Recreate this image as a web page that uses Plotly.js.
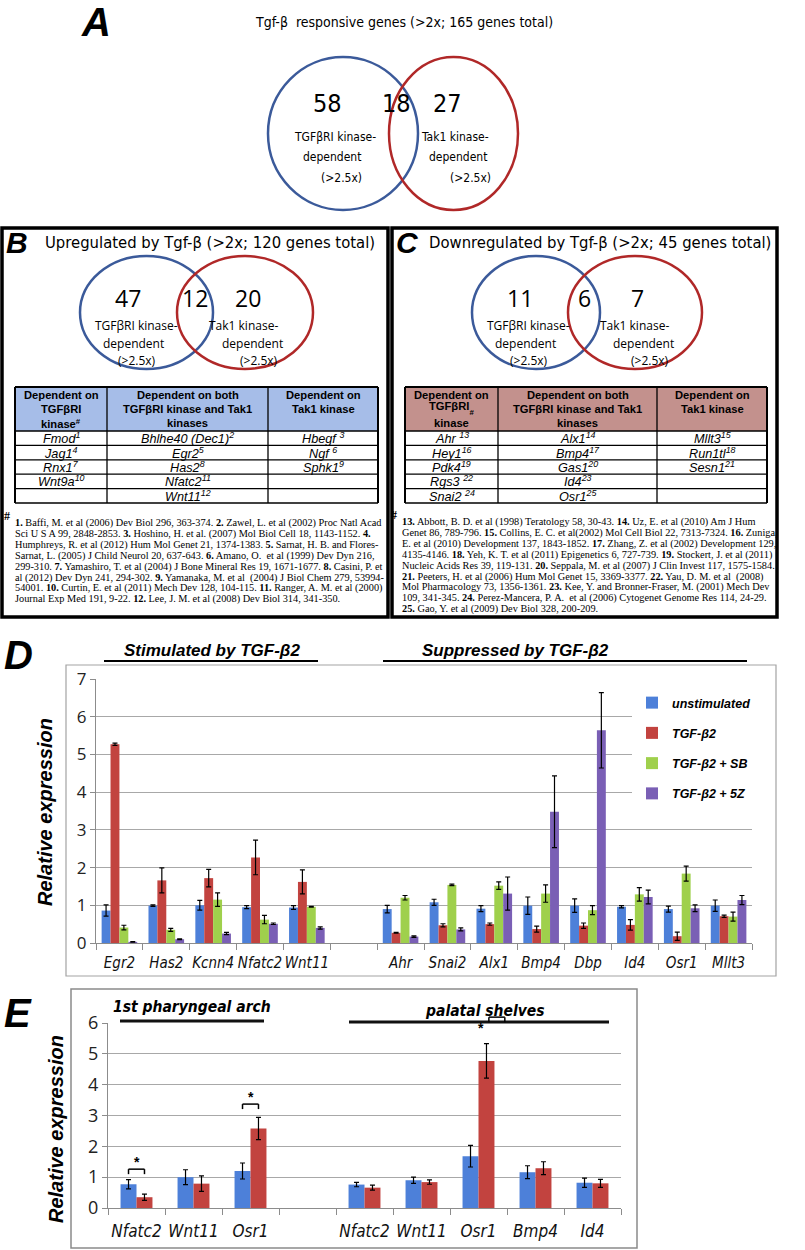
<!DOCTYPE html>
<html><head><meta charset="utf-8">
<script src="https://cdn.plot.ly/plotly-3.0.1.min.js"></script>
<style>html,body{margin:0;padding:0;background:#fff}#chart{width:805px;height:1250px}</style>
</head><body><div id="chart"></div>
<script>
// ================= DATA =================
const vennA = [58, 18, 27];
const vennB = [47, 12, 20];
const vennC = [11, 6, 7];
const vennLeftLabel = ['TGFβRI kinase-', 'dependent', '(>2.5x)'];
const vennRightLabel = ['Tak1 kinase-', 'dependent', '(>2.5x)'];
const titleA = 'Tgf-β  responsive genes (>2x; 165 genes total)';
const titleB = 'Upregulated by Tgf-β (>2x; 120 genes total)';
const titleC = 'Downregulated by Tgf-β (>2x; 45 genes total)';

const tableBHeader = [['Dependent on', 'TGFβRI', 'kinase<sup>#</sup>'], ['Dependent on both', 'TGFβRI kinase and Tak1', 'kinases'], ['Dependent on', 'Tak1 kinase']];
const tableBCol1 = ['Fmod<sup>1</sup>', 'Jag1<sup>4</sup>', 'Rnx1<sup>7</sup>', 'Wnt9a<sup>10</sup>', ''];
const tableBCol2 = ['Bhlhe40 (Dec1)<sup>2</sup>', 'Egr2<sup>5</sup>', 'Has2<sup>8</sup>', 'Nfatc2<sup>11</sup>', 'Wnt11<sup>12</sup>'];
const tableBCol3 = ['Hbegf <sup>3</sup>', 'Ngf <sup>6</sup>', 'Sphk1<sup>9</sup>', '', ''];
const tableCHeader = [['Dependent on', 'TGFβRI<sub>#</sub>', 'kinase'], ['Dependent on both', 'TGFβRI kinase and Tak1', 'kinases'], ['Dependent on', 'Tak1 kinase']];
const tableCCol1 = ['Ahr <sup>13</sup>', 'Hey1<sup>16</sup>', 'Pdk4<sup>19</sup>', 'Rgs3 <sup>22</sup>', 'Snai2 <sup>24</sup>'];
const tableCCol2 = ['Alx1<sup>14</sup>', 'Bmp4<sup>17</sup>', 'Gas1<sup>20</sup>', 'Id4<sup>23</sup>', 'Osr1<sup>25</sup>'];
const tableCCol3 = ['Mllt3<sup>15</sup>', 'Run1tl<sup>18</sup>', 'Sesn1<sup>21</sup>', '', ''];

const refsB = [
 '<b>1.</b> Baffi, M. et al (2006) Dev Biol 296, 363-374. <b>2.</b> Zawel, L. et al (2002) Proc Natl Acad',
 'Sci U S A 99, 2848-2853. <b>3.</b> Hoshino, H. et al. (2007) Mol Biol Cell 18, 1143-1152. <b>4.</b>',
 'Humphreys, R. et al (2012) Hum Mol Genet 21, 1374-1383. <b>5.</b> Sarnat, H. B. and Flores-',
 'Sarnat, L. (2005) J Child Neurol 20, 637-643. <b>6.</b> Amano, O.  et al (1999) Dev Dyn 216,',
 '299-310. <b>7.</b> Yamashiro, T. et al (2004) J Bone Mineral Res 19, 1671-1677. <b>8.</b> Casini, P. et',
 'al (2012) Dev Dyn 241, 294-302. <b>9.</b> Yamanaka, M. et al  (2004) J Biol Chem 279, 53994-',
 '54001. <b>10.</b> Curtin, E. et al (2011) Mech Dev 128, 104-115. <b>11.</b> Ranger, A. M. et al (2000)',
 'Journal Exp Med 191, 9-22. <b>12.</b> Lee, J. M. et al (2008) Dev Biol 314, 341-350.'
];
const refsC = [
 '<b>13.</b> Abbott, B. D. et al (1998) Teratology 58, 30-43. <b>14.</b> Uz, E. et al (2010) Am J Hum',
 'Genet 86, 789-796. <b>15.</b> Collins, E. C. et al(2002) Mol Cell Biol 22, 7313-7324. <b>16.</b> Zuniga,',
 'E. et al (2010) Development 137, 1843-1852. <b>17.</b> Zhang, Z. et al (2002) Development 129,',
 '4135-4146. <b>18.</b> Yeh, K. T. et al (2011) Epigenetics 6, 727-739. <b>19.</b> Stockert, J. et al (2011)',
 'Nucleic Acids Res 39, 119-131. <b>20.</b> Seppala, M. et al (2007) J Clin Invest 117, 1575-1584.',
 '<b>21.</b> Peeters, H. et al (2006) Hum Mol Genet 15, 3369-3377. <b>22.</b> Yau, D. M. et al  (2008)',
 'Mol Pharmacology 73, 1356-1361. <b>23.</b> Kee, Y. and Bronner-Fraser, M. (2001) Mech Dev',
 '109, 341-345. <b>24.</b> Perez-Mancera, P. A.  et al (2006) Cytogenet Genome Res 114, 24-29.',
 '<b>25.</b> Gao, Y. et al (2009) Dev Biol 328, 200-209.'
];

// Panel D: qPCR, four conditions
const dCategories = ['Egr2','Has2','Kcnn4','Nfatc2','Wnt11',null,'Ahr','Snai2','Alx1','Bmp4','Dbp','Id4','Osr1','Mllt3'];
const dSeriesNames = ['unstimulated','TGF-β2','TGF-β2 + SB','TGF-β2 + 5Z'];
const dUnstim    = [0.86,0.99,1.00,0.95,0.94,null,0.90,1.08,0.91,0.99,0.99,0.96,0.90,0.99];
const dUnstimErr = [0.15,0.02,0.13,0.04,0.05,null,0.10,0.08,0.08,0.23,0.18,0.03,0.08,0.15];
const dTgf       = [5.27,1.66,1.72,2.27,1.62,null,0.27,0.47,0.50,0.37,0.46,0.48,0.18,0.71];
const dTgfErr    = [0.03,0.33,0.23,0.46,0.32,null,0.01,0.04,0.03,0.08,0.07,0.14,0.11,0.03];
const dSB        = [0.41,0.35,1.15,0.62,0.96,null,1.20,1.54,1.52,1.31,0.87,1.29,1.84,0.70];
const dSBErr     = [0.06,0.04,0.18,0.11,0.01,null,0.06,0.02,0.10,0.23,0.12,0.18,0.20,0.12];
const d5Z        = [0.03,0.10,0.25,0.51,0.40,null,0.17,0.36,1.31,3.48,5.64,1.22,0.92,1.14];
const d5ZErr     = [0.01,0.01,0.03,0.02,0.03,null,0.02,0.04,0.44,0.95,1.00,0.18,0.09,0.12];
const dGroupTitles = ['Stimulated by TGF-β2', 'Suppressed by TGF-β2'];

// Panel E: tissue, two conditions
const eCategories = ['Nfatc2','Wnt11','Osr1',null,'Nfatc2','Wnt11','Osr1','Bmp4','Id4'];
const eControl    = [0.77,1.00,1.20,null,0.76,0.90,1.68,1.16,0.82];
const eControlErr = [0.15,0.24,0.26,null,0.07,0.10,0.35,0.21,0.15];
const eTreated    = [0.35,0.79,2.58,null,0.66,0.84,4.77,1.29,0.80];
const eTreatedErr = [0.10,0.25,0.36,null,0.08,0.07,0.56,0.21,0.13];
const eGroupTitles = ['1st pharyngeal arch', 'palatal shelves'];
const eSignificant = [0, 2, 6];
const eSigLevel    = [1.26, 3.37, 6.19];

// ================= LAYOUT HELPERS =================
const W = 805, H = 1250;
const X = p => p / W;
const Y = p => 1 - p / H;
const narrow = 'Liberation Sans Narrow, DejaVu Sans Condensed, Arial Narrow, sans-serif';
const arial = 'Liberation Sans, Arial, sans-serif';
const serif = 'Liberation Serif, Times New Roman, serif';
const calib = 'Open Sans, Noto Sans, sans-serif';
const blueC = '#4d80d9', redC = '#c2433f', greenC = '#9fd04c', purpC = '#7a5fb5';

function sized(t, size) {
  const s = (size * 0.7).toFixed(1);
  return t.replace(/<sup>(.*?)<\/sup>/g, '<span style="font-size:' + s + 'px;baseline-shift:super">$1</span>')
          .replace(/<sub>(.*?)<\/sub>/g, '<span style="font-size:' + s + 'px;baseline-shift:sub">$1</span>')
          .replace(/<b>(.*?)<\/b>/g, '<span style="font-weight:bold;font-size:' + size + 'px">$1</span>');
}

const shapes = [], ann = [];
function txt(x, y, text, size, fam, opts) {
  ann.push(Object.assign({xref:'paper', yref:'paper', x:X(x), y:Y(y), text:text, showarrow:false,
    xanchor:'center', yanchor:'middle', font:{size:size, family:fam, color:'#000'}}, opts || {}));
}
function rect(x0, y0, x1, y1, ln, fill, opts) {
  shapes.push(Object.assign({type:'rect', xref:'paper', yref:'paper', x0:X(x0), x1:X(x1), y0:Y(y0), y1:Y(y1),
    line:ln, fillcolor:fill || 'rgba(0,0,0,0)', layer:'above'}, opts || {}));
}
function line(x0, y0, x1, y1, color, width) {
  shapes.push({type:'line', xref:'paper', yref:'paper', x0:X(x0), x1:X(x1), y0:Y(y0), y1:Y(y1),
    line:{color:color, width:width}, layer:'above'});
}
function ellipse(x0, y0, x1, y1, color, width) {
  shapes.push({type:'circle', xref:'paper', yref:'paper', x0:X(x0), x1:X(x1), y0:Y(y0), y1:Y(y1),
    line:{color:color, width:width}, layer:'above'});
}

// ---- Panel A ----
txt(96, 22, '<b><i>A</i></b>', 40, arial);
txt(404, 22, titleA, 14, narrow);
ellipse(268, 57, 418, 210, '#3b5a9a', 2.5);
ellipse(389, 57, 518, 210, '#b02828', 2.5);
txt(327, 104, String(vennA[0]), 25, narrow);
txt(396, 104, String(vennA[1]), 25, narrow);
txt(447, 104, String(vennA[2]), 25, narrow);
[137, 157, 178].forEach((yy, i) => {
  txt([335, 332, 341][i], yy, vennLeftLabel[i], 12, narrow);
  txt([455, 458, 470][i], yy, vennRightLabel[i], 12, narrow);
});

// ---- Panels B & C ----
function panel(ox, boxR, letter, title, venn, hdr, c1, c2, c3, cols, tblL, tblR, hdrFill, refs, refY, refX, circ) {
  rect(ox + 2, 228, boxR, 617, {color:'#000', width:3.5});
  txt(ox + 17, 242, '<b><i>' + letter + '</i></b>', 30, arial);
  txt((ox + 40 + boxR - 8) / 2, 242, title, 16.5, narrow);
  ellipse(circ[0], 256, circ[1], 369, '#3b5a9a', 2.5);
  ellipse(circ[2], 256, circ[3], 369, '#b02828', 2.5);
  const nx = [circ[0] + 48, (circ[1] + circ[2]) / 2, circ[3] - 65];
  venn.forEach((v, i) => txt(nx[i], 298, String(v), 23, calib));
  const lx = [circ[0] + 56, circ[0] + 53, circ[0] + 57];
  const rx = [circ[2] + 66, circ[2] + 75, circ[2] + 82];
  [326, 343, 360].forEach((yy, i) => {
    txt(lx[i], yy, vennLeftLabel[i], 12, calib);
    txt(rx[i], yy, vennRightLabel[i], 12, calib);
  });
  const hTop = 387, hBot = 431, rowH = 14.4;
  const edges = [tblL, cols[0], cols[1], tblR];
  rect(tblL, hTop, tblR, hBot, {color:'#000', width:0}, hdrFill, {layer:'below'});
  const body = [c1, c2, c3];
  for (let r = 0; r <= 5; r++) line(tblL, hBot + r * rowH, tblR, hBot + r * rowH, '#000', 1.3);
  line(tblL, hTop, tblR, hTop, '#000', 2);
  edges.forEach((ex, k) => line(ex, hTop, ex, hBot + 5 * rowH, '#000', k === 0 || k === 3 ? 2 : 1.3));
  hdr.forEach((lines, k) => {
    const cx = (edges[k] + edges[k + 1]) / 2;
    lines.forEach((t, j) => txt(cx, 395 + j * 14, sized(t, 11.2), 11.2, arial, {font:{size:11.2, family:arial, color:'#000', weight:'bold'}}));
  });
  body.forEach((col, k) => {
    const cx = (edges[k] + edges[k + 1]) / 2;
    col.forEach((t, r) => { if (t) txt(cx, hBot + (r + 0.5) * rowH, sized(t, 12.7), 12.7, arial,
      {font:{size:12.7, family:arial, color:'#000', style:'italic'}}); });
  });
  txt(refX - 6, refY - 7, '#', 12, serif, {font:{size:12, family:serif, color:'#000', weight:'bold'}});
  refs.forEach((t, i) => txt(refX, refY + i * 10.9, sized(t, 10.3), 10.3, serif, {xanchor:'left'}));
}
panel(0, 388, 'B', titleB, vennB, tableBHeader, tableBCol1, tableBCol2, tableBCol3, [107, 268], 15, 378, '#a6bde8', refsB, 523, 13, [80, 213, 177, 313]);
panel(390, 777, 'C', titleC, vennC, tableCHeader, tableCCol1, tableCCol2, tableCCol3, [498, 657], 405, 767, '#c3918d', refsC, 522, 400, [472, 600, 568, 702]);

// ---- Panel D decorations ----
rect(66, 665, 776, 976, {color:'#a3a3a3', width:1.2}, null, {layer:'below'});
txt(18, 655, '<b><i>D</i></b>', 40, arial);
txt(212, 650, '<b><i>' + dGroupTitles[0] + '</i></b>', 17, arial);
line(104, 661, 318, 661, '#000', 2.2);
txt(515, 650, '<b><i>' + dGroupTitles[1] + '</i></b>', 17, arial);
line(383, 661, 747, 661, '#000', 2.2);
txt(45, 812, '<b><i>Relative expression</i></b>', 20, arial, {textangle:-90});

// ---- Panel E decorations ----
rect(71, 989, 637, 1248, {color:'#8a8a8a', width:1.5}, null, {layer:'below'});
txt(18, 1013, '<b><i>E</i></b>', 40, arial);
txt(192, 1007, '<b><i>' + eGroupTitles[0] + '</i></b>', 15.5, narrow);
line(120, 1021, 264, 1021, '#111', 3);
txt(485, 1011, '<b><i>' + eGroupTitles[1] + '</i></b>', 15.5, narrow);
line(349, 1022, 609, 1022, '#111', 3);
txt(56, 1129, '<b><i>Relative expression</i></b>', 20, arial, {textangle:-90});

const eL = 108, eR = 621, eB = 1208, eT = 1023, eN = eCategories.length, eMax = 6;
const eSlot = (eR - eL) / eN;
const eBarW = 0.28;
const ePx = i => eL + (i + 0.5) * eSlot;
const eVy = v => eB - v * (eB - eT) / eMax;
eSignificant.forEach((ci, k) => {
  const c = ePx(ci);
  const shift = k === 2 ? 1.15 * eBarW * eSlot : 0;
  const xa = c - eBarW * eSlot / 2 + shift, xb = c + eBarW * eSlot / 2 + shift;
  const yb = eVy(eSigLevel[k]);
  line(xa, yb, xb, yb, '#000', 1.5);
  line(xa, yb, xa, yb + 5, '#000', 1.5);
  line(xb, yb, xb, yb + 5, '#000', 1.5);
  const sy = k === 2 ? yb + 11 : yb - 7;
  txt(k === 2 ? c + 2 : c, sy, '<b>*</b>', 14, arial);
});

// ================= TRACES =================
const dIdx = dCategories.map((c, i) => i);
const dTickVals = dIdx.filter(i => dCategories[i] !== null);
const dTickText = dTickVals.map(i => dCategories[i]);
const dW = 0.19;
const dVals = [dUnstim, dTgf, dSB, d5Z], dErrs = [dUnstimErr, dTgfErr, dSBErr, d5ZErr];
const dCols = [blueC, redC, greenC, purpC];
const traces = [];
dVals.forEach((vals, s) => {
  traces.push({type:'bar', x:dIdx, y:vals, name:dSeriesNames[s], xaxis:'x', yaxis:'y',
    width:dW, offset:-2 * dW + s * dW, marker:{color:dCols[s], line:{width:0}},
    legendgroup:'g' + s,
    error_y:{type:'data', array:dErrs[s], visible:true, color:'#000', thickness:1.2, width:2.5}});
});
const eIdx = eCategories.map((c, i) => i);
const eTickVals = eIdx.filter(i => eCategories[i] !== null);
const eTickText = eTickVals.map(i => eCategories[i]);
[[eControl, eControlErr, blueC, 'control'], [eTreated, eTreatedErr, redC, 'TGF-β']].forEach((d, s) => {
  traces.push({type:'bar', x:eIdx, y:d[0], name:d[3], xaxis:'x2', yaxis:'y2', showlegend:false,
    width:eBarW, offset:-eBarW + s * eBarW, marker:{color:d[2], line:{width:0}},
    error_y:{type:'data', array:d[1], visible:true, color:'#000', thickness:1.2, width:2.5}});
});

const tickNarrow = {family:narrow, size:15, color:'#111', style:'italic'};
const layout = {
  width:W, height:H, margin:{l:0, r:0, t:0, b:0}, paper_bgcolor:'#fff', plot_bgcolor:'rgba(0,0,0,0)',
  barmode:'overlay', showlegend:true,
  legend:{x:X(632), y:Y(688), xanchor:'left', yanchor:'top', bgcolor:'#fff', borderwidth:0,
    font:{family:arial, size:12.5, color:'#000', weight:'bold', style:'italic'}, tracegroupgap:11, itemwidth:30},
  xaxis:{domain:[X(96), X(752)], anchor:'y', range:[-0.5, 13.5], tickvals:dTickVals, ticktext:dTickText,
    ticks:'', showgrid:false, zeroline:false, showline:true, linecolor:'#8c8c8c', linewidth:1,
    tickfont:tickNarrow, ticklabelstandoff:6, fixedrange:true,
    minor:{ticks:'outside', ticklen:6, tickcolor:'#8c8c8c', tickmode:'linear', tick0:-0.5, dtick:1, showgrid:false}},
  yaxis:{domain:[Y(943), Y(679)], anchor:'x', range:[0, 7], tickvals:[0,1,2,3,4,5,6,7],
    showgrid:true, gridcolor:'#a8a8a8', gridwidth:1, zeroline:false, showline:true, linecolor:'#8c8c8c',
    ticks:'outside', ticklen:5, tickcolor:'#8c8c8c', tickfont:{family:calib, size:17, color:'#222'}, fixedrange:true},
  xaxis2:{domain:[X(eL), X(eR)], anchor:'y2', range:[-0.5, eN - 0.5], tickvals:eTickVals, ticktext:eTickText,
    ticks:'', showgrid:false, zeroline:false, showline:true, linecolor:'#8c8c8c', linewidth:1,
    tickfont:{family:narrow, size:17, color:'#111', style:'italic'}, ticklabelstandoff:8, fixedrange:true,
    minor:{ticks:'outside', ticklen:6, tickcolor:'#8c8c8c', tickmode:'linear', tick0:-0.5, dtick:1, showgrid:false}},
  yaxis2:{domain:[Y(eB), Y(eT)], anchor:'x2', range:[0, eMax], tickvals:[0,1,2,3,4,5,6],
    showgrid:true, gridcolor:'#a8a8a8', gridwidth:1, zeroline:false, showline:true, linecolor:'#8c8c8c',
    ticks:'outside', ticklen:5, tickcolor:'#8c8c8c', tickfont:{family:calib, size:18, color:'#222'}, fixedrange:true},
  shapes:shapes, annotations:ann
};
Plotly.newPlot('chart', traces, layout, {displayModeBar:false, staticPlot:true});
</script></body></html>
